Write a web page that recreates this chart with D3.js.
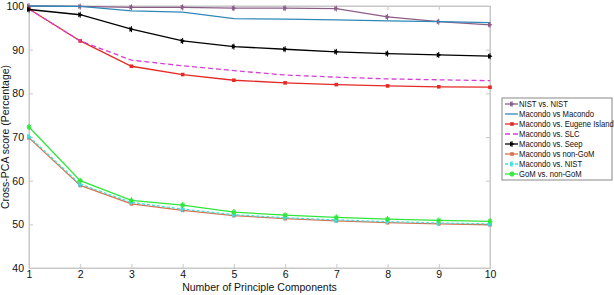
<!DOCTYPE html>
<html>
<head>
<meta charset="utf-8">
<script src="https://cdn.jsdelivr.net/npm/d3@7"></script>
<style>
  body { margin: 0; background: #fff; }
  text { font-family: "Liberation Sans", Arial, sans-serif; }
</style>
</head>
<body>
<svg width="614" height="295"></svg>
<script>
// number of principal components
const components = [1, 2, 3, 4, 5, 6, 7, 8, 9, 10];

// series values (percentage)
const nistNist        = [100, 99.9, 99.7, 99.7, 99.5, 99.5, 99.4, 97.5, 96.4, 95.7];
const macondoMacondo  = [100, 99.9, 98.9, 98.6, 97.1, 97.0, 96.8, 96.6, 96.4, 96.2];
const macondoEugene   = [99.3, 92.0, 86.2, 84.3, 83.0, 82.4, 82.0, 81.7, 81.5, 81.4];
const macondoSlc      = [99.3, 92.0, 87.6, 86.3, 85.2, 84.2, 83.7, 83.3, 83.1, 82.9];
const macondoSeep     = [99.2, 98.0, 94.7, 92.0, 90.7, 90.1, 89.5, 89.1, 88.8, 88.5];
const macondoNonGom   = [69.8, 58.9, 54.7, 53.2, 52.0, 51.3, 50.8, 50.4, 50.1, 49.9];
const macondoNist     = [70.1, 59.2, 55.0, 53.5, 52.2, 51.5, 51.0, 50.6, 50.3, 50.1];
const gomNonGom       = [72.3, 60.0, 55.5, 54.4, 52.8, 52.1, 51.6, 51.2, 50.9, 50.7];

const yTicks = [40, 50, 60, 70, 80, 90, 100];

const series = [
  { name: "NIST vs. NIST", values: nistNist, color: "#8c5e87", marker: "tri" },
  { name: "Macondo vs Macondo", values: macondoMacondo, color: "#2f88b8", marker: null },
  { name: "Macondo vs. Eugene Island", values: macondoEugene, color: "#e42a25", marker: "dot" },
  { name: "Macondo vs. SLC", values: macondoSlc, color: "#d63ed6", marker: null, dash: "5,3" },
  { name: "Macondo vs. Seep", values: macondoSeep, color: "#000000", marker: "tri" },
  { name: "Macondo vs non-GoM", values: macondoNonGom, color: "#d9714f", marker: "dot" },
  { name: "Macondo vs. NIST", values: macondoNist, color: "#3ee0e0", marker: "tri", dash: "3,2" },
  { name: "GoM vs. non-GoM", values: gomNonGom, color: "#2fe63a", marker: "star" }
];

const svg = d3.select("svg");
const margin = { left: 29, right: 124, top: 6, bottom: 27 };
const width = 614 - margin.left - margin.right;
const height = 295 - margin.top - margin.bottom;

const x = d3.scaleLinear().domain([1, 10]).range([0, width]);
const y = d3.scaleLinear().domain([40, 100]).range([height, 0]);

const g = svg.append("g").attr("transform", `translate(${margin.left},${margin.top})`);

// frame
g.append("rect")
  .attr("width", width).attr("height", height)
  .attr("fill", "none").attr("stroke", "#c8c8c8");

// axes, ticks inward like matlab
g.append("g")
  .attr("transform", `translate(0,${height})`)
  .call(d3.axisBottom(x).tickValues(components).tickSize(-4).tickPadding(3).tickFormat(d3.format("d")));
g.append("g")
  .call(d3.axisLeft(y).tickValues(yTicks).tickSize(-4).tickPadding(5));
g.append("g").attr("transform", `translate(${width},0)`)
  .call(d3.axisRight(y).tickValues(yTicks).tickSize(-4).tickFormat(""));
g.append("g")
  .call(d3.axisTop(x).tickValues(components).tickSize(-4).tickFormat(""));

g.selectAll(".domain").attr("stroke", "#c8c8c8");
g.selectAll(".tick line").attr("stroke", "#c8c8c8");
g.selectAll(".tick text").attr("font-size", 10.5).attr("fill", "#111")
  .attr("font-family", "Liberation Sans, Arial, sans-serif");

const line = d3.line().x((d, i) => x(components[i])).y(d => y(d));

function drawMarker(sel, type, color) {
  if (type === "tri") {
    sel.append("path").attr("d", "M-2,-2.5L2.5,0L-2,2.5Z").attr("fill", color);
    sel.append("path").attr("d", "M0,-3V3").attr("stroke", color).attr("stroke-width", 1);
  } else if (type === "dot") {
    sel.append("rect").attr("x", -1.8).attr("y", -1.8).attr("width", 3.6).attr("height", 3.6).attr("fill", color);
  } else if (type === "star") {
    sel.append("path").attr("d", "M-2.5,0H2.5M0,-3V3M-1.8,-1.8L1.8,1.8M-1.8,1.8L1.8,-1.8")
      .attr("stroke", color).attr("stroke-width", 1.1);
  }
}

series.forEach(s => {
  g.append("path")
    .datum(s.values)
    .attr("d", line)
    .attr("fill", "none")
    .attr("stroke", s.color)
    .attr("stroke-width", 1.3)
    .attr("stroke-dasharray", s.dash || null);
  if (s.marker) {
    g.selectAll(null)
      .data(s.values)
      .enter().append("g")
      .attr("transform", (d, i) => `translate(${x(components[i])},${y(d)})`)
      .each(function () { drawMarker(d3.select(this), s.marker, s.color); });
  }
});

// axis titles
svg.append("text")
  .attr("x", margin.left + width / 2).attr("y", 291)
  .attr("text-anchor", "middle").attr("font-size", 10.5).attr("fill", "#111")
  .text("Number of Principle Components");
svg.append("text")
  .attr("transform", `translate(9,${margin.top + height / 2}) rotate(-90)`)
  .attr("text-anchor", "middle").attr("font-size", 10.5).attr("fill", "#111")
  .text("Cross-PCA score (Percentage)");

// legend
const lx = 502, ly = 98, lw = 110, rowH = 10;
const legend = svg.append("g").attr("transform", `translate(${lx},${ly})`);
legend.append("rect")
  .attr("width", lw).attr("height", rowH * series.length + 2)
  .attr("fill", "#fff").attr("stroke", "#888");
series.forEach((s, i) => {
  const row = legend.append("g").attr("transform", `translate(0,${6 + i * rowH})`);
  row.append("path").attr("d", "M3,0H16").attr("stroke", s.color)
    .attr("stroke-width", 1.3).attr("stroke-dasharray", s.dash || null);
  if (s.marker) {
    const m = row.append("g").attr("transform", "translate(10,0)");
    drawMarker(m, s.marker, s.color);
  }
  // reference legend font is narrow; squeeze horizontally
  row.append("text")
    .attr("transform", "translate(17,3.4) scale(0.8,1)")
    .attr("font-size", 9.6).attr("fill", "#111").text(s.name);
});
</script>
</body>
</html>
